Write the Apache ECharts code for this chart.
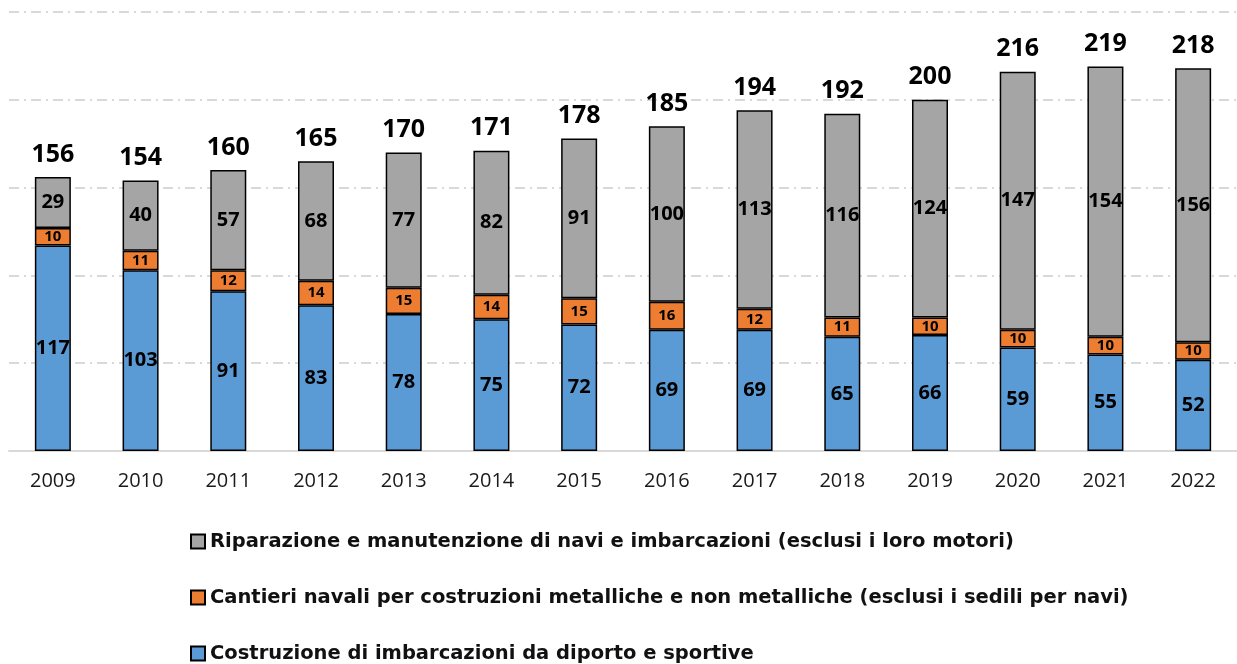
<!DOCTYPE html>
<html>
<head>
<meta charset="utf-8">
<script src="https://cdn.jsdelivr.net/npm/echarts@6/dist/echarts.min.js"></script>
<style>
  html, body { margin: 0; padding: 0; background: #fff; }
  #main { width: 1237px; height: 664px; }
</style>
</head>
<body>
<div id="main"></div>
<script>
// dati
var anni = ['2009', '2010', '2011', '2012', '2013', '2014', '2015', '2016', '2017', '2018', '2019', '2020', '2021', '2022'];
var diporto = [117, 103, 91, 83, 78, 75, 72, 69, 69, 65, 66, 59, 55, 52];
var cantieri = [10, 11, 12, 14, 15, 14, 15, 16, 12, 11, 10, 10, 10, 10];
var riparazione = [29, 40, 57, 68, 77, 82, 91, 100, 113, 116, 124, 147, 154, 156];
var totali = [156, 154, 160, 165, 170, 171, 178, 185, 194, 192, 200, 216, 219, 218];

var nomi = [
    'Riparazione e manutenzione di navi e imbarcazioni (esclusi i loro motori)',
    'Cantieri navali per costruzioni metalliche e non metalliche (esclusi i sedili per navi)',
    'Costruzione di imbarcazioni da diporto e sportive'
];

var font = '"Open Sans", sans-serif';

function serie(nome, dati, colore, size) {
    return {
        name: nome,
        type: 'bar',
        stack: 'tot',
        barWidth: 36,
        data: dati,
        itemStyle: { color: colore, borderColor: '#000', borderWidth: 1.5 },
        label: {
            show: true,
            position: 'inside',
            color: '#000',
            fontWeight: 'bold',
            fontFamily: font,
            fontSize: size
        }
    };
}

var chart = echarts.init(document.getElementById('main'));
chart.setOption({
    animation: false,
    grid: { left: 9, right: -15, top: 12, bottom: 213, containLabel: false },
    legend: {
        data: nomi,
        orient: 'vertical',
        left: 185,
        top: 526,
        height: 140,
        itemGap: 35,
        itemWidth: 14,
        itemHeight: 14,
        icon: 'rect',
        textStyle: { fontFamily: '"DejaVu Sans", sans-serif', fontWeight: 'bold', fontSize: 19.5, lineHeight: 21, color: '#111' }
    },
    xAxis: {
        type: 'category',
        data: anni,
        axisLine: { lineStyle: { color: '#d9d9d9', width: 2 } },
        axisTick: { show: false },
        axisLabel: { color: '#1a1a1a', fontSize: 20, fontFamily: font, margin: 20 }
    },
    yAxis: {
        type: 'value',
        min: 0,
        max: 250,
        interval: 50,
        axisLabel: { show: false },
        axisLine: { show: false },
        axisTick: { show: false },
        splitLine: { lineStyle: { color: '#d9d9d9', width: 2, type: [10, 5, 2, 5] } }
    },
    series: [
        serie(nomi[2], diporto, '#5b9bd5', 20),
        serie(nomi[1], cantieri, '#ed7d31', 15),
        serie(nomi[0], riparazione, '#a5a5a5', 20),
        {
            name: 'totale',
            type: 'bar',
            stack: 'tot',
            barWidth: 36,
            data: totali.map(function () { return 0; }),
            itemStyle: { color: 'transparent' },
            label: {
                show: true,
                position: 'top',
                distance: 10,
                color: '#000',
                fontWeight: 'bold',
                fontFamily: font,
                fontSize: 25,
                formatter: function (p) { return totali[p.dataIndex]; }
            }
        }
    ]
});
</script>
</body>
</html>
